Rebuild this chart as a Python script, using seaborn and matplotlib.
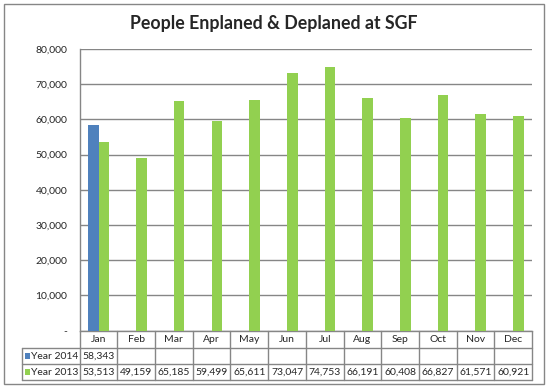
import numpy as np
import pandas as pd
import matplotlib
matplotlib.use("Agg")
import matplotlib.pyplot as plt
from matplotlib.patches import Rectangle
from matplotlib.lines import Line2D
import seaborn as sns

months = ['Jan', 'Feb', 'Mar', 'Apr', 'May', 'Jun', 'Jul', 'Aug', 'Sep', 'Oct', 'Nov', 'Dec']
year_2014 = [58343, np.nan, np.nan, np.nan, np.nan, np.nan, np.nan, np.nan, np.nan, np.nan, np.nan, np.nan]
year_2013 = [53513, 49159, 65185, 59499, 65611, 73047, 74753, 66191, 60408, 66827, 61571, 60921]
series_names = ['Year 2014', 'Year 2013']
colors = ['#4F81BD', '#92D050']
yticks = [0, 10000, 20000, 30000, 40000, 50000, 60000, 70000, 80000]

# long format for seaborn
df = pd.DataFrame({
    'month': months * 2,
    'series': [series_names[0]] * 12 + [series_names[1]] * 12,
    'value': year_2014 + year_2013,
})

sns.set_style("white")
plt.rcParams['font.family'] = ['Lato', 'DejaVu Sans']
grid_c = '#868686'

fig = plt.figure(figsize=(5.48, 3.92), dpi=100)
ax = fig.add_axes([79.7 / 548, 61.5 / 392, 452.3 / 548, 281.5 / 392])

sns.barplot(data=df, x='month', y='value', hue='series', hue_order=series_names,
            order=months, palette=colors, saturation=1, width=0.56, gap=0,
            legend=False, ax=ax, zorder=3, linewidth=0)

ax.set_ylim(0, 80000)
ax.set_xlim(-0.5, 11.5)
ax.set_yticks(yticks)
ax.set_yticklabels(['-' if v == 0 else f'{v:,}' for v in yticks], fontsize=7.5)
ax.tick_params(axis='y', length=0, pad=9)
ax.set_xticks([])
ax.set_xlabel('')
ax.set_ylabel('')
ax.grid(axis='y', color=grid_c, lw=1, zorder=0)
ax.set_axisbelow(True)
for s in ['top', 'right']:
    ax.spines[s].set_visible(False)
for s in ['left', 'bottom']:
    ax.spines[s].set_color(grid_c)
    ax.spines[s].set_linewidth(1)

# data table below the plot (axes coords)
h_head = 17.8 / 281.5
h_row = 16 / 281.5
y_lines = [0, -h_head, -h_head - h_row, -h_head - 2 * h_row]
lab_left = (21.7 - 79.7) / 452.3
tb = ax.transAxes
kw = dict(color=grid_c, lw=1, transform=tb, clip_on=False)
for k in range(13):
    ax.add_line(Line2D([k / 12, k / 12], [0, y_lines[-1]], **kw))
for y in y_lines[1:]:
    ax.add_line(Line2D([lab_left, 1], [y, y], **kw))
ax.add_line(Line2D([lab_left, lab_left], [y_lines[1], y_lines[-1]], **kw))

for i, m in enumerate(months):
    ax.text((i + 0.5) / 12, -h_head / 2, m, transform=tb, ha='center', va='center', fontsize=7.5)

rows = [year_2014, year_2013]
for r, (name, vals, c) in enumerate(zip(series_names, rows, colors)):
    yc = -h_head - (r + 0.5) * h_row
    ax.add_patch(Rectangle((lab_left + 3.6 / 452.3, yc - 2.6 / 281.5), 5 / 452.3, 5.5 / 281.5,
                           transform=tb, clip_on=False, facecolor=c, edgecolor='none'))
    ax.text(lab_left + 9.5 / 452.3, yc, name, transform=tb, ha='left', va='center', fontsize=7.5)
    for i, v in enumerate(vals):
        if not np.isnan(v):
            ax.text((i + 0.5) / 12, yc, f'{int(v):,}', transform=tb, ha='center', va='center', fontsize=7.5)

fig.text(0.5, 1 - 24 / 392, 'People Enplaned & Deplaned at SGF', ha='center', va='center',
         fontsize=12.8, fontweight='bold')

fig.patches.append(Rectangle((3.5 / 548, 1 - 383.5 / 392), 540.5 / 548, 379.5 / 392,
                             transform=fig.transFigure, fill=False, edgecolor=grid_c, lw=1))

fig.savefig('out.png', dpi=100)
